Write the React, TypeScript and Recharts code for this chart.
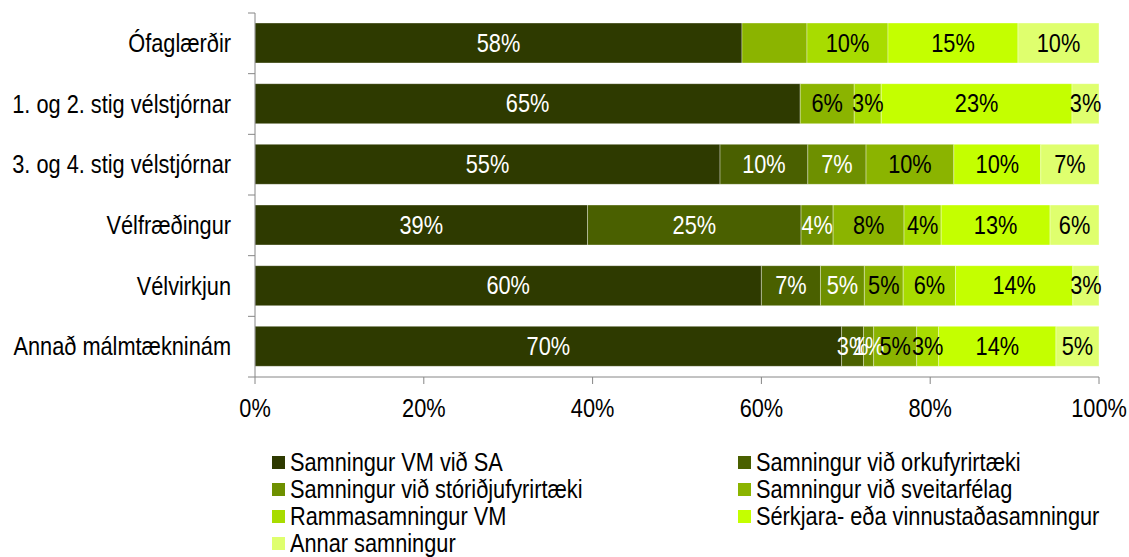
import React from 'react';
import { BarChart, Bar, XAxis, YAxis, LabelList } from 'recharts';

const categories = [
  'Ófaglærðir',
  '1. og 2. stig vélstjórnar',
  '3. og 4. stig vélstjórnar',
  'Vélfræðingur',
  'Vélvirkjun',
  'Annað málmtækninám',
];

const seriesNames = [
  'Samningur VM við SA',
  'Samningur við orkufyrirtæki',
  'Samningur við stóriðjufyrirtæki',
  'Samningur við sveitarfélag',
  'Rammasamningur VM',
  'Sérkjara- eða vinnustaðasamningur',
  'Annar samningur',
];

// shares in % per category (same order as categories)
const vmSa = [57.7, 64.6, 55.1, 39.4, 60.0, 69.5];
const orkufyrirtaeki = [0, 0, 10.4, 25.3, 7.0, 2.6];
const storidja = [0, 0, 6.9, 3.8, 5.2, 1.2];
const sveitarfelag = [7.7, 6.4, 10.4, 8.4, 4.6, 5.1];
const rammasamningur = [9.6, 3.2, 0, 4.4, 6.2, 2.6];
const serkjara = [15.4, 22.6, 10.3, 12.9, 13.9, 13.9];
const annar = [9.6, 3.2, 6.9, 5.8, 3.1, 5.1];

const xTicks = [0, 20, 40, 60, 80, 100];

// labels that the original leaves out: [series, category]
const hiddenLabels = [[3, 0]];

const seriesValues = [vmSa, orkufyrirtaeki, storidja, sveitarfelag, rammasamningur, serkjara, annar];
const colors = ['#2E3A00', '#4A6000', '#6E9000', '#8BB400', '#A8DC00', '#C4FF00', '#DFFF6E'];
const labelColors = ['#fff', '#fff', '#fff', '#000', '#000', '#000', '#000'];

const chartData = categories.map((name, i) => {
  const row: Record<string, string | number> = { name };
  seriesValues.forEach((vals, s) => {
    row['s' + s] = vals[i];
  });
  return row;
});

const FONT = '"Liberation Sans", Arial, sans-serif';
const FS = 25;
const SQUEEZE = 0.87; // original uses a narrow face
const AXIS = '#868686';
const PLOT_LEFT = 255;
const PLOT_TOP = 13;
const PLOT_BOTTOM = 377;
const HALF_BAND = (PLOT_BOTTOM - PLOT_TOP) / categories.length / 2;

function NarrowText({ x, y, anchor = 'middle', fill = '#000', dy, baseline, children }: any) {
  return (
    <text
      transform={`translate(${x},${y}) scale(${SQUEEZE},1)`}
      textAnchor={anchor}
      dominantBaseline={baseline}
      dy={dy}
      fontSize={FS}
      fill={fill}
      fontFamily={FONT}
    >
      {children}
    </text>
  );
}

function CategoryTick(props: any) {
  const { x, y, payload, index } = props;
  return (
    <g>
      <line x1={PLOT_LEFT - 7} x2={PLOT_LEFT} y1={y - HALF_BAND} y2={y - HALF_BAND} stroke={AXIS} />
      {index === categories.length - 1 && (
        <line x1={PLOT_LEFT - 7} x2={PLOT_LEFT} y1={y + HALF_BAND} y2={y + HALF_BAND} stroke={AXIS} />
      )}
      <NarrowText x={x} y={y} anchor="end" baseline="central">
        {payload.value}
      </NarrowText>
    </g>
  );
}

function PercentTick(props: any) {
  const { x, y, payload } = props;
  return (
    <NarrowText x={x} y={y} dy="0.71em">
      {payload.value}%
    </NarrowText>
  );
}

function makeLabel(s: number) {
  return function SegmentLabel(props: any) {
    const { x, y, width, height, value, index } = props;
    if (!value) return null;
    if (hiddenLabels.some(([hs, hi]) => hs === s && hi === index)) return null;
    return (
      <NarrowText x={x + width / 2} y={y + height / 2} baseline="central" fill={labelColors[s]}>
        {Math.round(value)}%
      </NarrowText>
    );
  };
}

export default function App() {
  return (
    <div style={{ position: 'relative', width: 1129, height: 557, background: '#fff', fontFamily: FONT }}>
      <style>{'body{margin:0}'}</style>
      <BarChart
        width={1129}
        height={557}
        data={chartData}
        layout="vertical"
        margin={{ top: PLOT_TOP, right: 30, left: 0, bottom: 130 }}
        barSize={40}
      >
        <XAxis
          type="number"
          domain={[0, 100]}
          ticks={xTicks}
          height={50}
          tickSize={7}
          tickMargin={15}
          axisLine={{ stroke: AXIS }}
          tickLine={{ stroke: AXIS }}
          tick={<PercentTick />}
          interval={0}
        />
        <YAxis
          type="category"
          dataKey="name"
          width={PLOT_LEFT}
          tickLine={false}
          tickSize={6}
          tickMargin={18}
          axisLine={{ stroke: AXIS }}
          tick={<CategoryTick />}
          interval={0}
        />
        {seriesNames.map((name, s) => (
          <Bar
            key={name}
            dataKey={'s' + s}
            name={name}
            stackId="a"
            fill={colors[s]}
            stroke="rgba(255,255,255,0.35)"
            strokeWidth={1}
            isAnimationActive={false}
          >
            <LabelList dataKey={'s' + s} content={makeLabel(s)} />
          </Bar>
        ))}
      </BarChart>

      {/* legend, two columns like the original */}
      <div
        style={{
          position: 'absolute',
          left: 272,
          top: 449,
          display: 'grid',
          gridTemplateColumns: '466px 380px',
          fontSize: FS,
          color: '#000',
        }}
      >
        {seriesNames.map((name, s) => (
          <div key={name} style={{ display: 'flex', alignItems: 'center', height: 27, whiteSpace: 'nowrap' }}>
            <span style={{ width: 13, height: 13, background: colors[s], marginRight: 5, flex: 'none' }} />
            <span style={{ display: 'inline-block', transform: `scaleX(${SQUEEZE})`, transformOrigin: 'left center' }}>
              {name}
            </span>
          </div>
        ))}
      </div>
    </div>
  );
}
